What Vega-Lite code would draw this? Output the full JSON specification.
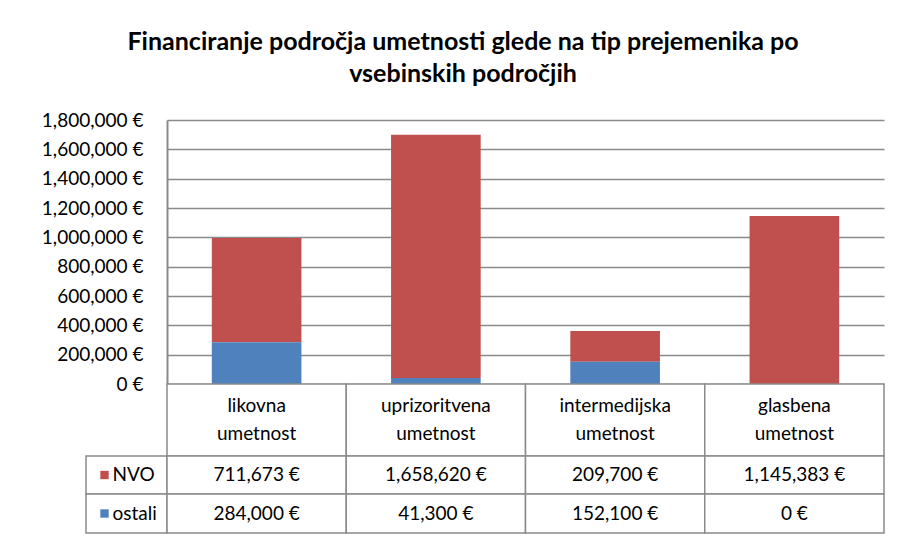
{
  "$schema": "https://vega.github.io/schema/vega-lite/v6.json",
  "background": "white",
  "padding": {"left": 41, "top": 30, "right": 17, "bottom": 8},
  "title": {
    "text": ["Financiranje področja umetnosti glede na tip prejemenika po", "vsebinskih področjih"],
    "font": "Lato",
    "fontSize": 25,
    "fontWeight": "bold",
    "color": "#000000",
    "anchor": "middle",
    "frame": "bounds",
    "lineHeight": 32,
    "offset": 24
  },
  "config": {
    "view": {"stroke": null},
    "font": "Lato",
    "locale": {"number": {"decimal": ".", "thousands": ",", "grouping": [3], "currency": ["", " €"]}},
    "text": {"font": "Lato", "fontSize": 19, "color": "#000000"}
  },
  "datasets": {
    "funding": [
      {"podrocje": "likovna umetnost", "tip": "NVO", "znesek": 711673},
      {"podrocje": "likovna umetnost", "tip": "ostali", "znesek": 284000},
      {"podrocje": "uprizoritvena umetnost", "tip": "NVO", "znesek": 1658620},
      {"podrocje": "uprizoritvena umetnost", "tip": "ostali", "znesek": 41300},
      {"podrocje": "intermedijska umetnost", "tip": "NVO", "znesek": 209700},
      {"podrocje": "intermedijska umetnost", "tip": "ostali", "znesek": 152100},
      {"podrocje": "glasbena umetnost", "tip": "NVO", "znesek": 1145383},
      {"podrocje": "glasbena umetnost", "tip": "ostali", "znesek": 0}
    ],
    "categories": [
      {"podrocje": "likovna umetnost"},
      {"podrocje": "uprizoritvena umetnost"},
      {"podrocje": "intermedijska umetnost"},
      {"podrocje": "glasbena umetnost"}
    ],
    "series": [{"tip": "NVO"}, {"tip": "ostali"}]
  },
  "columns": 2,
  "spacing": 0,
  "bounds": "flush",
  "align": "each",
  "concat": [
    {
      "width": 81, "height": 264,
      "data": {"values": []},
      "mark": "rect",
      "encoding": {}
    },
    {
      "width": 717, "height": 264,
      "data": {"name": "funding"},
      "mark": {"type": "bar"},
      "encoding": {
        "x": {
          "field": "podrocje", "type": "nominal",
          "sort": ["likovna umetnost", "uprizoritvena umetnost", "intermedijska umetnost", "glasbena umetnost"],
          "scale": {"paddingInner": 0.5, "paddingOuter": 0.25},
          "axis": null
        },
        "y": {
          "field": "znesek", "type": "quantitative", "stack": "zero",
          "scale": {"domain": [0, 1800000], "nice": false},
          "axis": {
            "title": null,
            "values": [0, 200000, 400000, 600000, 800000, 1000000, 1200000, 1400000, 1600000, 1800000],
            "format": "$,.0f",
            "grid": true,
            "gridColor": "#8a8a8a",
            "gridWidth": 1.5,
            "domainColor": "#8a8a8a",
            "domainWidth": 2,
            "ticks": false,
            "labelPadding": 24,
            "labelFont": "Lato",
            "labelFontSize": 19,
            "labelColor": "#000000"
          }
        },
        "color": {
          "field": "tip", "type": "nominal",
          "scale": {"domain": ["NVO", "ostali"], "range": ["#C0504D", "#4F81BD"]},
          "legend": null
        },
        "order": {"field": "tip", "sort": "descending"}
      }
    },
    {
      "width": 81, "height": 72,
      "data": {"values": []},
      "mark": "rect",
      "encoding": {}
    },
    {
      "width": 717, "height": 72,
      "data": {"name": "categories"},
      "encoding": {
        "x": {
          "field": "podrocje", "type": "nominal",
          "sort": ["likovna umetnost", "uprizoritvena umetnost", "intermedijska umetnost", "glasbena umetnost"],
          "scale": {"padding": 0},
          "axis": null
        }
      },
      "layer": [
        {"mark": {"type": "rect", "fill": "white", "stroke": "#8a8a8a", "strokeWidth": 1.5}},
        {"mark": {"type": "text", "lineBreak": " ", "lineHeight": 28, "dy": -14}, "encoding": {"text": {"field": "podrocje"}}}
      ]
    },
    {
      "width": 81, "height": 38,
      "data": {"name": "series"},
      "transform": [{"filter": "datum.tip === 'NVO'"}],
      "layer": [
        {"mark": {"type": "rect", "fill": "white", "stroke": "#8a8a8a", "strokeWidth": 1.5}, "encoding": {}},
        {
          "mark": {"type": "point", "shape": "square", "filled": true, "size": 70, "opacity": 1, "xOffset": -22},
          "encoding": {"color": {"field": "tip", "type": "nominal", "scale": {"domain": ["NVO", "ostali"], "range": ["#C0504D", "#4F81BD"]}, "legend": null}}
        },
        {"mark": {"type": "text", "align": "left", "dx": -14}, "encoding": {"text": {"field": "tip"}}}
      ]
    },
    {
      "width": 717, "height": 38,
      "data": {"name": "funding"},
      "transform": [{"filter": "datum.tip === 'NVO'"}],
      "encoding": {
        "x": {
          "field": "podrocje", "type": "nominal",
          "sort": ["likovna umetnost", "uprizoritvena umetnost", "intermedijska umetnost", "glasbena umetnost"],
          "scale": {"padding": 0},
          "axis": null
        }
      },
      "layer": [
        {"mark": {"type": "rect", "fill": "white", "stroke": "#8a8a8a", "strokeWidth": 1.5}},
        {"mark": {"type": "text"}, "encoding": {"text": {"field": "znesek", "type": "quantitative", "format": "$,.0f"}}}
      ]
    },
    {
      "width": 81, "height": 39,
      "data": {"name": "series"},
      "transform": [{"filter": "datum.tip === 'ostali'"}],
      "layer": [
        {"mark": {"type": "rect", "fill": "white", "stroke": "#8a8a8a", "strokeWidth": 1.5}, "encoding": {}},
        {
          "mark": {"type": "point", "shape": "square", "filled": true, "size": 70, "opacity": 1, "xOffset": -22},
          "encoding": {"color": {"field": "tip", "type": "nominal", "scale": {"domain": ["NVO", "ostali"], "range": ["#C0504D", "#4F81BD"]}, "legend": null}}
        },
        {"mark": {"type": "text", "align": "left", "dx": -14}, "encoding": {"text": {"field": "tip"}}}
      ]
    },
    {
      "width": 717, "height": 39,
      "data": {"name": "funding"},
      "transform": [{"filter": "datum.tip === 'ostali'"}],
      "encoding": {
        "x": {
          "field": "podrocje", "type": "nominal",
          "sort": ["likovna umetnost", "uprizoritvena umetnost", "intermedijska umetnost", "glasbena umetnost"],
          "scale": {"padding": 0},
          "axis": null
        }
      },
      "layer": [
        {"mark": {"type": "rect", "fill": "white", "stroke": "#8a8a8a", "strokeWidth": 1.5}},
        {"mark": {"type": "text"}, "encoding": {"text": {"field": "znesek", "type": "quantitative", "format": "$,.0f"}}}
      ]
    }
  ]
}
